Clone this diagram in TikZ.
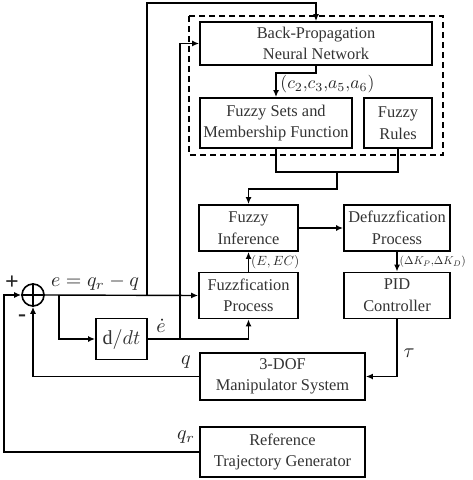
\documentclass[tikz,border=0pt]{standalone}
\usepackage{graphicx}
\usepackage{fontspec}
\setmainfont{Liberation Serif}
\usetikzlibrary{arrows.meta}
\begin{document}
\begin{tikzpicture}[x=0.5pt,y=-0.5pt,
  box/.style={draw, line width=0.9pt, inner sep=0pt, align=center, font=\fontsize{8.2}{10.8}\selectfont, text=black!80},
  conn/.style={line width=0.7pt, -{Latex[length=3.5pt,width=3pt]}},
  wire/.style={line width=0.7pt},
  lbl/.style={font=\fontsize{10}{12}\selectfont, inner sep=0pt, text=black!85},
  slbl/.style={inner sep=1pt, text=black!85}]
\useasboundingbox (0,0) rectangle (472,480);
\draw[dashed, line width=0.8pt, dash pattern=on 3pt off 2pt] (189,16) rectangle (443,155);
\node[box, minimum width=116pt, minimum height=21.5pt] (bp) at (316,43.5) {Back-Propagation\\Neural Network};
\node[box, minimum width=76pt, minimum height=25pt] (fs) at (276,123) {Fuzzy Sets and\\Membership Function};
\node[box, minimum width=34pt, minimum height=25pt] (fr) at (398,123) {Fuzzy\\Rules};
\node[box, minimum width=49.5pt, minimum height=23pt] (fi) at (248.5,228) {Fuzzy\\Inference};
\node[box, minimum width=53pt, minimum height=23pt] (df) at (397,228) {Defuzzfication\\Process};
\node[box, minimum width=49.5pt, minimum height=23pt] (fz) at (248.5,295.5) {Fuzzfication\\Process};
\node[box, minimum width=53pt, minimum height=23pt] (pid) at (397,295.5) {PID\\Controller};
\node[box, minimum width=25.5pt, minimum height=20.5pt, font=\fontsize{10}{12}\selectfont] (ddt) at (121.5,339) {$\mathrm{d}/dt$};
\node[box, minimum width=82.5pt, minimum height=23.5pt] (man) at (282.5,376.5) {3-DOF\\Manipulator System};
\node[box, minimum width=82.5pt, minimum height=25pt] (ref) at (282.5,452) {Reference\\Trajectory Generator};
\node[draw, circle, line width=0.8pt, minimum size=11pt, inner sep=0pt] (sum) at (33,295) {};
\draw[wire] (sum.north) -- (sum.south) (sum.west) -- (sum.east);
\coordinate (j1) at (147,295);
\coordinate (j2) at (59,295);
\coordinate (j3) at (180,339);
\coordinate (br) at (398,172);
\coordinate (bm) at (337,172);
\coordinate (tp) at (147,3);
\coordinate (rl) at (4,452);
\coordinate (fb) at (337,189);
\draw[conn] (sum.east) -- (fz.west);
\draw[conn] (j1) -- (tp) -| (bp.north);
\draw[conn] (j2) |- (ddt.west);
\draw[conn] (ddt.east) -| (fz.south);
\draw[conn] (j3) |- (bp.west);
\draw[conn] (bp.south) -- ++(0,7) -| (fs.north);
\draw[wire] (fs.south) |- (br) -- (fr.south);
\draw[conn] (bm) -- (fb) -| (fi.north);
\draw[conn] (fi.east) -- (df.west);
\draw[conn] (fz.north) -- (fi.south) node[midway, right, slbl] {\resizebox{24pt}{!}{$(E,EC)$}};
\draw[conn] (df.south) -- (pid.north) node[midway, right, slbl] {\resizebox{33pt}{!}{$(\Delta K_P{,}\Delta K_D)$}};
\draw[conn] (pid.south) |- (man.east);
\draw[conn] (man.west) -| (sum.south);
\draw[conn] (ref.west) -- (rl) |- (sum.west);
\node[lbl] (elbl) at (95,283) {$e = q_r - q$};
\node[lbl] (edot) at (161,326) {$\dot e$};
\node[lbl] (qlbl) at (186,362) {$q$};
\node[lbl] (qrlbl) at (186,437) {$q_r$};
\node[lbl] (taulbl) at (409,353) {$\tau$};
\node[lbl, font=\bfseries\fontsize{12}{12}\selectfont] (plus) at (12,283) {+};
\node[lbl, font=\bfseries\fontsize{12}{12}\selectfont] (minus) at (22,318) {-};
\node[lbl, anchor=west] (cl) at (280,84) {\resizebox{47pt}{!}{$(c_2{,}c_3{,}a_5{,}a_6)$}};
\end{tikzpicture}
\end{document}
